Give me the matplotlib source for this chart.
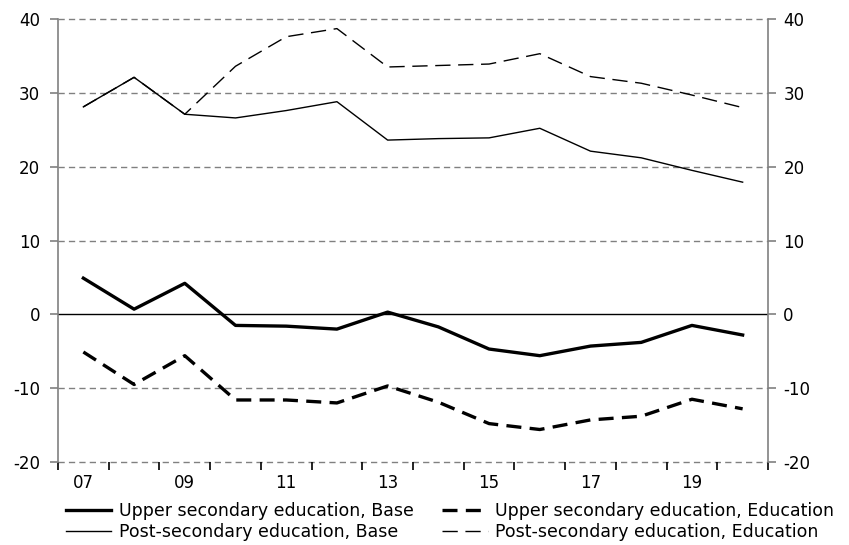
import matplotlib
matplotlib.use('Agg')
import matplotlib.pyplot as plt
import numpy as np

# 데이터
years = ['07', '08', '09', '10', '11', '12', '13', '14', '15', '16', '17', '18', '19', '20']
upper_base = [4.9, 0.7, 4.2, -1.5, -1.6, -2.0, 0.3, -1.7, -4.7, -5.6, -4.3, -3.8, -1.5, -2.8]
upper_edu = [-5.1, -9.5, -5.6, -11.6, -11.6, -12.0, -9.7, -11.9, -14.8, -15.6, -14.3, -13.8, -11.5, -12.8]
post_base = [28.1, 32.1, 27.1, 26.6, 27.6, 28.8, 23.6, 23.8, 23.9, 25.2, 22.1, 21.2, 19.5, 17.9]
post_edu = [28.1, 32.1, 27.1, 33.6, 37.6, 38.7, 33.5, 33.7, 33.9, 35.3, 32.2, 31.3, 29.7, 28.0]
labels = ['Upper secondary education, Base', 'Post-secondary education, Base',
          'Upper secondary education, Education', 'Post-secondary education, Education']
yticks = [-20, -10, 0, 10, 20, 30, 40]

GRAY = '#808080'
plt.rcParams['font.family'] = ['DejaVu Sans']
plt.rcParams['axes.unicode_minus'] = False

fig = plt.figure(figsize=(8.49, 5.45), dpi=100)
ax = fig.add_axes([58/849, 1 - 462/545, (768-58)/849, (462-19)/545])

x = np.arange(len(years))

# 격자선
for v in yticks:
    if v == 0:
        continue
    ax.axhline(v, color=GRAY, lw=1.0, ls=(0, (4.5, 3)), zorder=1, clip_on=False)
ax.axhline(0, color='black', lw=1.0, zorder=1)

l1, = ax.plot(x, upper_base, color='black', lw=2.4, zorder=3)
l3, = ax.plot(x, upper_edu, color='black', lw=2.4, ls=(0, (4.5, 2.5)), zorder=3)
l4, = ax.plot(x, post_edu, color='black', lw=1.0, ls=(0, (11, 5.5)), zorder=2)
l2, = ax.plot(x, post_base, color='black', lw=1.0, zorder=3)

ax.set_xlim(-0.5, len(years) - 0.5)
ax.set_ylim(-20, 40)

for s in ['top', 'bottom']:
    ax.spines[s].set_visible(False)
for s in ['left', 'right']:
    ax.spines[s].set_color(GRAY)
    ax.spines[s].set_linewidth(1.2)

# 왼쪽 y축
ax.set_yticks(yticks)
ax.tick_params(axis='y', length=6, width=1.2, color=GRAY, labelsize=12, pad=7, direction='out')

# 오른쪽 y축
ax2 = ax.twinx()
ax2.set_ylim(-20, 40)
ax2.set_yticks(yticks)
for s in ['top', 'bottom', 'left', 'right']:
    ax2.spines[s].set_visible(False)
ax2.tick_params(axis='y', length=6, width=1.2, color=GRAY, labelsize=12, pad=5, direction='out')

ax.set_xticks(x[::2])
ax.set_xticklabels(years[::2])
ax.set_xticks(np.arange(-0.5, len(years) + 0.5, 1), minor=True)
ax.tick_params(axis='x', which='major', length=0, labelsize=12, pad=9)
ax.tick_params(axis='x', which='minor', length=6, width=1.2, color='black', direction='out')

leg = fig.legend([l1, l2, l3, l4], labels, ncol=2, loc='upper left',
                 bbox_to_anchor=(66/849, 1 - 502/545), frameon=False,
                 prop={'size': 12.5},
                 handlelength=2.6, handletextpad=0.45, columnspacing=1.65,
                 labelspacing=0.2, borderpad=0, borderaxespad=0)

plt.savefig('out.png', dpi=100)
